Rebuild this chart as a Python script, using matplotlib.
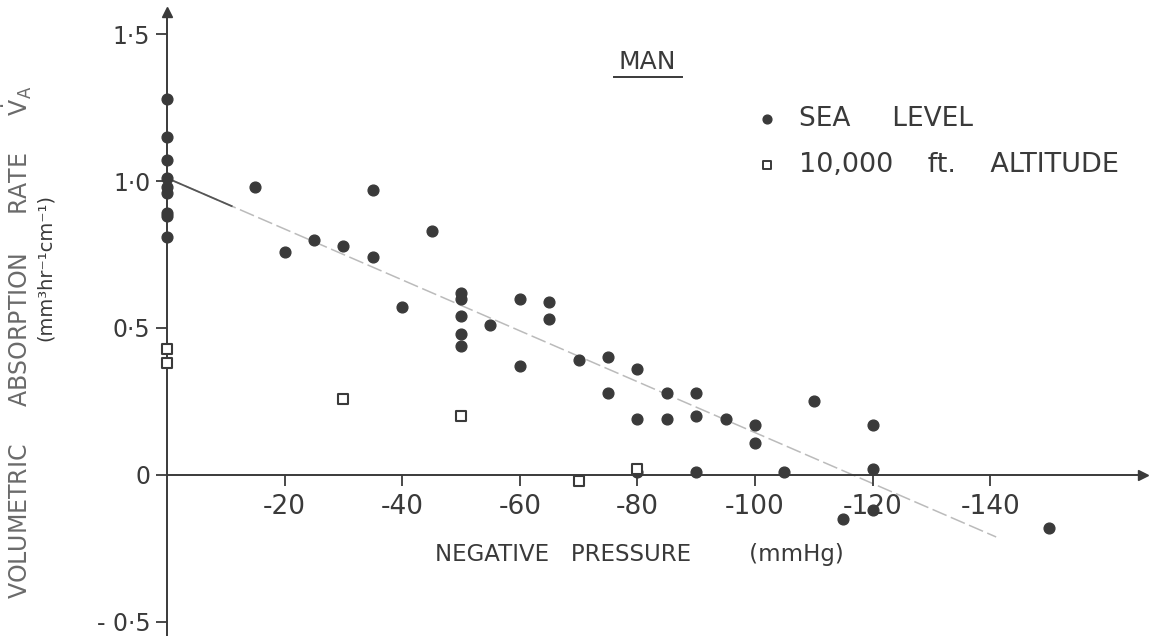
import numpy as np
import matplotlib.pyplot as plt

# sea level (filled dots): pressure in mmHg (negative), absorption rate
sea_x = [0, 0, 0, 0, 0, 0, 0, 0, 0,
         -15, -20, -25, -30, -35, -35, -40, -45,
         -50, -50, -50, -50, -50, -55, -60, -60, -65, -65,
         -70, -75, -75, -80, -80, -85, -85, -90, -90, -95,
         -100, -100, -110, -120,
         -80, -90, -105, -120,
         -115, -120, -150]
sea_y = [1.28, 1.15, 1.07, 1.01, 0.98, 0.96, 0.89, 0.88, 0.81,
         0.98, 0.76, 0.80, 0.78, 0.97, 0.74, 0.57, 0.83,
         0.62, 0.60, 0.54, 0.48, 0.44, 0.51, 0.60, 0.37, 0.59, 0.53,
         0.39, 0.40, 0.28, 0.36, 0.19, 0.28, 0.19, 0.28, 0.20, 0.19,
         0.17, 0.11, 0.25, 0.17,
         0.01, 0.01, 0.01, 0.02,
         -0.15, -0.12, -0.18]

# 10,000 ft altitude (open squares)
alt_x = [0, 0, -30, -50, -70, -80]
alt_y = [0.43, 0.38, 0.26, 0.20, -0.02, 0.02]

# fitted line
fit_intercept = 1.01
fit_slope = 0.00866   # per mmHg of negative pressure
fit_end = -141

xticks = [-20, -40, -60, -80, -100, -120, -140]
xticklabels = ['-20', '-40', '-60', '-80', '-100', '-120', '-140']
yticks = [1.5, 1.0, 0.5, 0, -0.5]
yticklabels = ['1·5', '1·0', '0·5', '0', '- 0·5']

ink = '#3a3a3a'

fig = plt.figure(figsize=(11.52, 6.36), dpi=100)
ax = fig.add_axes([0, 0, 1, 1])
ax.set_xlim(28.4, -167.5)
ax.set_ylim(-0.548, 1.616)
ax.patch.set_alpha(0)

for s in ['top', 'right']:
    ax.spines[s].set_visible(False)
ax.spines['left'].set_position(('data', 0))
ax.spines['bottom'].set_position(('data', 0))
ax.spines['left'].set_bounds(-0.55, 1.57)
ax.spines['bottom'].set_bounds(0, -165)
for s in ['left', 'bottom']:
    ax.spines[s].set_color(ink)
    ax.spines[s].set_linewidth(1.4)

# arrow heads
ax.plot(0, 1.575, marker='^', color=ink, markersize=7, clip_on=False)
ax.plot(-166, 0, marker='>', color=ink, markersize=7, clip_on=False)

ax.set_xticks(xticks)
ax.set_xticklabels(xticklabels)
ax.set_yticks(yticks)
ax.set_yticklabels(yticklabels)
ax.tick_params(axis='both', direction='out', length=8, width=1.3, color=ink,
               labelcolor=ink, labelsize=17)
ax.tick_params(axis='x', pad=6, labelsize=19)
ax.tick_params(axis='y', pad=4)

# fitted line: dark near the origin, faint beyond
fx = np.array([0, fit_end])
ax.plot(fx, fit_intercept + fit_slope * fx, color='#bbbbbb', lw=1.1,
        dashes=(10, 3), zorder=1)
fx0 = np.array([0, -11])
ax.plot(fx0, fit_intercept + fit_slope * fx0, color='#555555', lw=1.3, zorder=1)

ax.scatter(sea_x, sea_y, s=60, color=ink, zorder=3, clip_on=False)
ax.scatter(alt_x, alt_y, s=42, marker='s', facecolor='white', edgecolor=ink,
           linewidth=1.5, zorder=4, clip_on=False)

# legend
ax.scatter([-102], [1.21], s=40, color=ink)
ax.text(-107.5, 1.21, 'SEA     LEVEL', fontsize=19, color=ink, va='center')
ax.scatter([-102], [1.055], s=26, marker='s', facecolor='white', edgecolor=ink,
           linewidth=1.4)
ax.text(-107.5, 1.055, '10,000    ft.    ALTITUDE', fontsize=19.5, color=ink,
        va='center')

# title
ax.text(-81.7, 1.405, 'MAN', fontsize=18, color=ink, ha='center', va='center')
ax.plot([-76, -87.5], [1.355, 1.355], color=ink, lw=1.4)

# axis labels
ax.text(-80.4, -0.27, 'NEGATIVE   PRESSURE        (mmHg)', fontsize=16.5,
        color=ink, ha='center', va='center')
fig.text(0.015, 0.462,
         r'VOLUMETRIC     ABSORPTION     RATE     $\dot{\mathrm{V}}_{\mathrm{A}}$',
         fontsize=17, color='#6a6a6a', rotation=90, ha='center', va='center')
fig.text(0.039, 0.58, '(mm³hr⁻¹cm⁻¹)', fontsize=14, color=ink, rotation=90,
         ha='center', va='center')

fig.savefig('out.png', dpi=100)
